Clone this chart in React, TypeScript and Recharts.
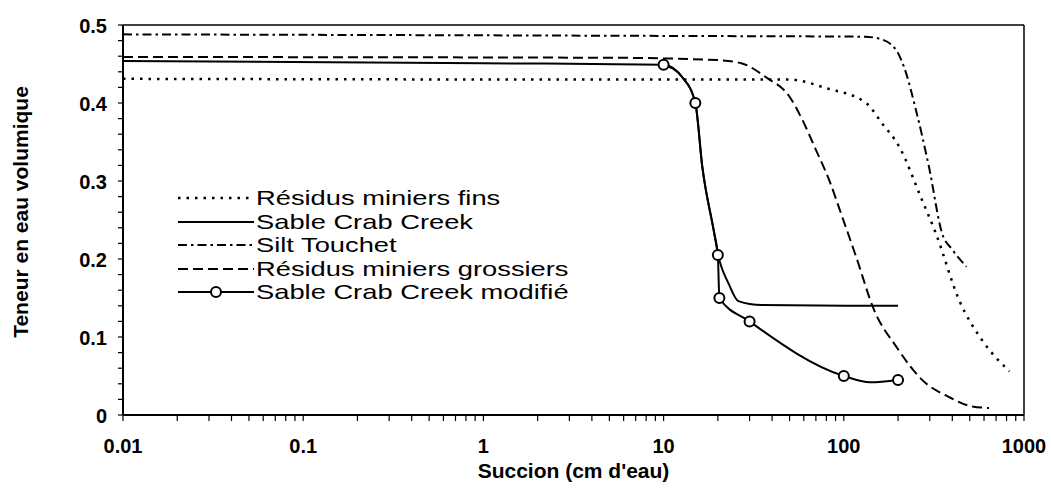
import { LineChart, Line, XAxis, YAxis, ReferenceLine, Legend, Label } from 'recharts'

const FONT = '"Liberation Sans", Arial, Helvetica, sans-serif'

// tick values / labels
const X_MAJOR = [0.01, 0.1, 1, 10, 100, 1000]
const X_MAJOR_LABELS = ['0.01', '0.1', '1', '10', '100', '1000']
const X_MINOR_FACTORS = [2, 3, 4, 5, 6, 7, 8, 9]
const Y_TICKS = [
  0, 0.02, 0.04, 0.06, 0.08, 0.1, 0.12, 0.14, 0.16, 0.18, 0.2, 0.22, 0.24,
  0.26, 0.28, 0.3, 0.32, 0.34, 0.36, 0.38, 0.4, 0.42, 0.44, 0.46, 0.48, 0.5,
]

// series: [succion (cm d'eau), teneur en eau]
const finsPts = [
  [0.01, 0.431], [10, 0.43], [50, 0.43], [80, 0.419], [133, 0.4], [163, 0.374],
  [203, 0.344], [269, 0.278], [324, 0.233], [437, 0.147], [585, 0.096], [830, 0.056],
]
const crabPts = [
  [0.01, 0.454], [1, 0.451], [10, 0.449], [12.7, 0.433], [15, 0.4], [16.4, 0.318],
  [19.1, 0.233], [20, 0.207], [23, 0.168], [26, 0.146], [35, 0.141], [200, 0.14],
]
const siltPts = [
  [0.01, 0.488], [10, 0.486], [130, 0.485], [160, 0.482], [195, 0.468], [216, 0.446],
  [252, 0.39], [297, 0.318], [351, 0.233], [400, 0.212], [480, 0.19],
]
const grossiersPts = [
  [0.01, 0.459], [5, 0.458], [20, 0.455], [27, 0.451], [37, 0.433], [50, 0.408],
  [59, 0.378], [70, 0.34], [83, 0.301], [98, 0.254], [117, 0.203], [147, 0.135],
  [195, 0.088], [272, 0.045], [384, 0.023], [515, 0.011], [640, 0.009],
]
// modified sand: traced curve + the measured (circled) points
const modifieCurve = [
  [10, 0.449], [12.7, 0.433], [15, 0.4], [16.4, 0.318], [19.1, 0.233], [20, 0.205],
  [20.4, 0.15], [30, 0.12], [100, 0.05], [140, 0.042], [200, 0.045],
]
const modifiePts = [
  [10, 0.449], [15, 0.4], [20, 0.205], [20.4, 0.15], [30, 0.12], [100, 0.05], [200, 0.045],
]

const toRows = (pts: number[][]) => pts.map(([x, y]) => ({ x, y }))

const xTicks = X_MAJOR.flatMap((d, i) =>
  i < X_MAJOR.length - 1 ? [d, ...X_MINOR_FACTORS.map(f => +(d * f).toPrecision(3))] : [d]
)

const SERIES = [
  { name: 'Résidus miniers fins', data: toRows(finsPts), dash: '2.5 6', width: 2.5, dot: false },
  { name: 'Sable Crab Creek', data: toRows(crabPts), dash: undefined, width: 2, dot: false },
  { name: 'Silt Touchet', data: toRows(siltPts), dash: '9 4 2.5 4', width: 2, dot: false },
  { name: 'Résidus miniers grossiers', data: toRows(grossiersPts), dash: '10 5', width: 2, dot: false },
  { name: 'Sable Crab Creek modifié', data: toRows(modifieCurve), dash: undefined, width: 2, dot: true },
]

const CIRCLE = { r: 5, fill: '#fff', stroke: '#000', strokeWidth: 2 }

function XTick({ x, y, payload }: any) {
  const i = X_MAJOR.indexOf(payload.value)
  if (i < 0) return <g />
  return (
    <text x={x} y={y + 32} textAnchor="middle" fontFamily={FONT} fontWeight="bold" fontSize={20} fill="#000">
      {X_MAJOR_LABELS[i]}
    </text>
  )
}

function YTick({ x, y, payload }: any) {
  const v = payload.value as number
  if (Math.round(v * 100) % 10 !== 0) return <g />
  return (
    <text x={x - 11} y={y + 7.5} textAnchor="end" fontFamily={FONT} fontWeight="bold" fontSize={20} fill="#000">
      {v === 0 ? '0' : v.toFixed(1)}
    </text>
  )
}

function LegendBox() {
  return (
    <div style={{ fontFamily: FONT, fontSize: 21, color: '#000' }}>
      {SERIES.map(s => (
        <div key={s.name} style={{ display: 'flex', alignItems: 'center', height: 23.5 }}>
          <svg width={80} height={23} style={{ flex: 'none' }}>
            <line x1={2} x2={78} y1={12} y2={12} stroke="#000" strokeWidth={s.width} strokeDasharray={s.dash} />
            {s.dot && <circle cx={40} cy={12} {...CIRCLE} />}
          </svg>
          <span style={{ display: 'inline-block', transform: 'scaleX(1.3)', transformOrigin: 'left center', whiteSpace: 'nowrap', lineHeight: '23px' }}>
            {s.name}
          </span>
        </div>
      ))}
    </div>
  )
}

export default function App() {
  return (
    <div style={{ position: 'absolute', left: 0, top: 0, background: '#fff' }}>
      <LineChart width={1051} height={492} margin={{ top: 25, right: 27, left: 0, bottom: 0 }}>
        <XAxis
          dataKey="x"
          type="number"
          scale="log"
          domain={[0.01, 1000]}
          ticks={xTicks}
          interval={0}
          allowDataOverflow
          height={77}
          tickSize={6}
          tickMargin={0}
          tickLine={{ stroke: '#000', strokeWidth: 1.2 }}
          tick={<XTick />}
          axisLine={{ stroke: '#000', strokeWidth: 2 }}
        >
          <Label
            content={({ viewBox }: any) => (
              <text x={viewBox.x + viewBox.width / 2} y={viewBox.y + 63} textAnchor="middle" fontFamily={FONT} fontWeight="bold" fontSize={21} fill="#000">
                Succion (cm d'eau)
              </text>
            )}
          />
        </XAxis>
        {/* inner half of the major x ticks */}
        <XAxis
          xAxisId="in"
          dataKey="x"
          type="number"
          scale="log"
          domain={[0.01, 1000]}
          ticks={X_MAJOR}
          interval={0}
          allowDataOverflow
          mirror
          height={0}
          tickSize={5}
          tick={false}
          tickLine={{ stroke: '#000', strokeWidth: 1.2 }}
          axisLine={false}
        />
        <YAxis
          type="number"
          domain={[0, 0.5]}
          ticks={Y_TICKS}
          interval={0}
          width={123}
          tickSize={5}
          tickMargin={0}
          tickLine={{ stroke: '#000', strokeWidth: 1.2 }}
          tick={<YTick />}
          axisLine={{ stroke: '#000', strokeWidth: 2 }}
        >
          <Label
            content={({ viewBox }: any) => {
              const cy = viewBox.y + 187
              return (
                <text x={28} y={cy} transform={`rotate(-90, 28, ${cy})`} textAnchor="middle" fontFamily={FONT} fontWeight="bold" fontSize={21} fill="#000">
                  Teneur en eau volumique
                </text>
              )
            }}
          />
        </YAxis>
        {/* inner half of the y ticks */}
        <YAxis
          yAxisId="in"
          type="number"
          domain={[0, 0.5]}
          ticks={Y_TICKS}
          interval={0}
          mirror
          width={0}
          tickSize={5}
          tick={false}
          tickLine={{ stroke: '#000', strokeWidth: 1.2 }}
          axisLine={false}
        />
        <ReferenceLine y={0.5} stroke="#000" strokeWidth={1.5} />
        <ReferenceLine x={1000} stroke="#000" strokeWidth={1.5} />
        {SERIES.map(s => (
          <Line
            key={s.name}
            name={s.name}
            data={s.data}
            dataKey="y"
            type="monotone"
            stroke="#000"
            strokeWidth={s.width}
            strokeDasharray={s.dash}
            dot={false}
            activeDot={false}
            isAnimationActive={false}
          />
        ))}
        <Line
          name="Sable Crab Creek modifié (mesures)"
          data={toRows(modifiePts)}
          dataKey="y"
          stroke="none"
          dot={CIRCLE}
          activeDot={false}
          legendType="none"
          isAnimationActive={false}
        />
        <Legend
          layout="vertical"
          align="center"
          verticalAlign="middle"
          content={() => <LegendBox />}
          wrapperStyle={{ left: 176, top: 186, width: 460 }}
        />
      </LineChart>
    </div>
  )
}
